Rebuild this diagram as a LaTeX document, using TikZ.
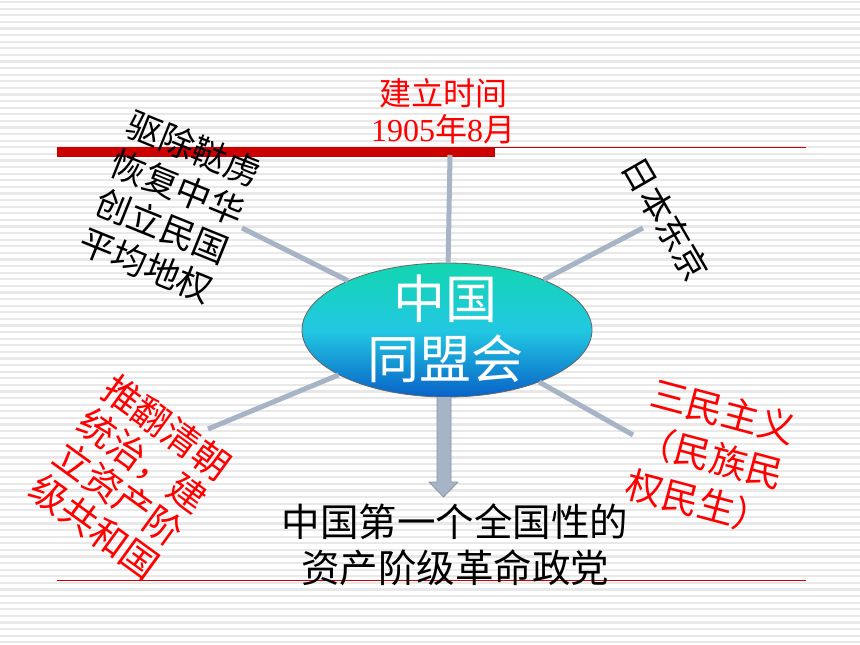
\documentclass[tikz,border=0pt]{standalone}
\usepackage{fontspec}
\setmainfont{Liberation Serif}
\newfontfamily\cjk{Noto Sans CJK SC}
\usetikzlibrary{shapes.geometric,calc}
\definecolor{conn}{HTML}{A6B4C6}
\definecolor{connedge}{HTML}{8796A8}
\definecolor{barred}{HTML}{CC0000}
\definecolor{txtred}{HTML}{FF0000}
\definecolor{stripec}{HTML}{E8E8E8}
\definecolor{elltop}{HTML}{12D6B0}
\definecolor{ellmid}{HTML}{22C8E2}
\definecolor{ellbot}{HTML}{0862C8}
\tikzset{
  stripe/.style={stripec, line width=2.2pt},
  connector/.style={conn, line width=5pt},
  label/.style={inner sep=0pt, outer sep=0pt},
}
\begin{document}
\begin{tikzpicture}[x=1pt,y=-1pt]
\useasboundingbox (0,0) rectangle (860,645);
\fill[white] (0,0) rectangle (860,645);
\foreach \i in {0,...,97} { \draw[stripe] (0,\i*6.6+2) -- (860,\i*6.6+2); }

% red rules
\draw[barred, line width=1pt] (57,147.5) -- (806,147.5);
\fill[barred] (57,147) rectangle (495,157);
\draw[barred, line width=1pt] (57,580) -- (806,580);

% central ellipse
\node[ellipse, draw=gray!80!black, line width=0.8pt, minimum width=290pt, minimum height=134pt, inner sep=0pt,
      top color=elltop, bottom color=ellbot, middle color=ellmid] (ell) at (447,330) {};
\node[label, white, align=center, font=\cjk\fontsize{52}{60}\selectfont] (elltxt) at (445,329) {中国\\同盟会};

% connector free ends
\coordinate (ctop) at (450,155);
\coordinate (cul) at (242,228);
\coordinate (cur) at (643,228);
\coordinate (clr) at (633,435);
\coordinate (cll) at (208,429);
\coordinate (tip) at (443.5,497);

\draw[connector] (ell) -- (ctop);
\draw[connector] (ell) -- (cul);
\draw[connector] (ell) -- (cur);
\draw[connector] (ell) -- (clr);
\draw[connector] (ell) -- (cll);

% block arrow
\draw[fill=conn, draw=connedge, line width=0.8pt, line join=round]
  ($(tip)+(-6.5,-100)$) -- ($(tip)+(-6.5,-15)$) -- ($(tip)+(-14.5,-15)$) -- (tip)
  -- ($(tip)+(14.5,-15)$) -- ($(tip)+(7.5,-15)$) -- ($(tip)+(7.5,-100)$);

% texts
\node[label, txtred, align=center, font=\fontsize{32}{36}\selectfont] (time) at (443,111)
  {{\cjk 建立时间}\\1905{\cjk 年}8{\cjk 月}};
\node[label, black, align=center, rotate=-22, font=\cjk\fontsize{35}{42}\selectfont] (goals) at (170,207)
  {驱除鞑虏\\恢复中华\\创立民国\\平均地权};
\node[label, black, rotate=-60, font=\cjk\fontsize{34}{40}\selectfont] (place) at (666,219) {日本东京};
\node[label, txtred, align=left, rotate=-15, font=\cjk\fontsize{37}{47}\selectfont] (sanmin) at (711,457)
  {三民主义\\（民族民\\权民生）};
\node[label, txtred, align=left, rotate=-36, font=\cjk\fontsize{37}{41}\selectfont] (aim) at (131,477)
  {推翻清朝\\统治，建\\立资产阶\\级共和国};
\node[label, black, align=center, font=\cjk\fontsize{38.5}{46}\selectfont] (nature) at (455,545)
  {中国第一个全国性的\\资产阶级革命政党};
\end{tikzpicture}
\end{document}
